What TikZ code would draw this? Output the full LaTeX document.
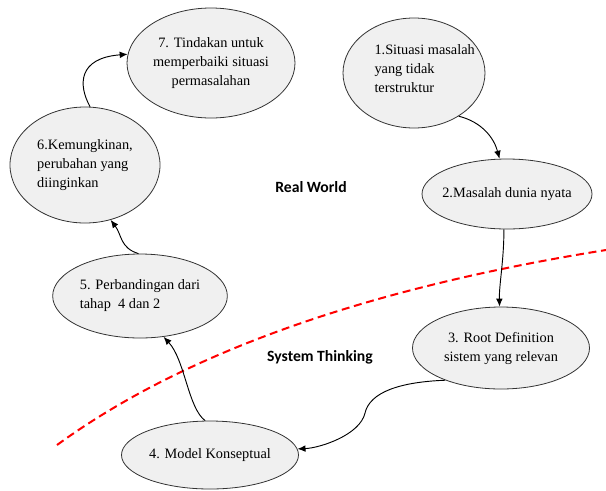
\documentclass[tikz,border=0pt]{standalone}
\usepackage{fontspec}
\usetikzlibrary{shapes.geometric, arrows.meta}
\setmainfont{Liberation Serif}
\newfontfamily\worldfont{Carlito}
\definecolor{stagefill}{HTML}{F0F0F0}
\begin{document}
\begin{tikzpicture}
  [
    x = 0.75pt, y = -0.75pt,
    stage/.style  = {ellipse, draw=black!80, line width=0.6pt, fill=stagefill, inner sep=0pt},
    txt/.style    = {font=\fontsize{10.75}{14.25}\selectfont, inner sep=0pt},
    world/.style  = {font=\worldfont\bfseries\fontsize{11.75}{13}\selectfont},
    link/.style   = {draw, line width=0.7pt, -{Latex[length=6pt, width=5pt]}},
    border/.style = {draw=red, line width=1.5pt, dash pattern=on 6pt off 3.5pt}
  ]
 \useasboundingbox (0,0) rectangle (606,490);
 % stages
 \node [stage, minimum width=126pt, minimum height=82.5pt,
   label={[txt, align=center]center:{7. Tindakan untuk\\memperbaiki situasi\\permasalahan}}]
   (s7) at (211,63) {};
 \node [stage, minimum width=106.5pt, minimum height=82.5pt,
   label={[txt, align=left, xshift=8pt, yshift=3pt]center:{1.Situasi masalah\\yang tidak\\terstruktur}}]
   (s1) at (414,73) {};
 \node [stage, minimum width=112.5pt, minimum height=87pt,
   label={[txt, align=left]center:{6.Kemungkinan,\\perubahan yang\\diinginkan}}]
   (s6) at (85,165) {};
 \node [stage, minimum width=127.5pt, minimum height=52.5pt,
   label={[txt]center:{2.Masalah dunia nyata}}]
   (s2) at (507,194) {};
 \node [stage, minimum width=131pt, minimum height=63pt,
   label={[txt, align=left]center:{5. Perbandingan dari\\tahap\ \ 4 dan 2}}]
   (s5) at (140,296) {};
 \node [stage, minimum width=132.75pt, minimum height=61.5pt,
   label={[txt, align=center]center:{3. Root Definition\\sistem yang relevan}}]
   (s3) at (501,348) {};
 \node [stage, minimum width=132.75pt, minimum height=51pt,
   label={[txt]center:{4. Model Konseptual}}]
   (s4) at (210,455) {};
 % regions
 \node [world] (real) at (311,187) {Real World};
 \node [world] (sys)  at (320,357) {System Thinking};
 \coordinate (b0) at (57,445);
 \coordinate (b1) at (606,250);
 \draw [border] (b0) .. controls (185,352) and (368,288) .. (b1);
 % cycle
 \draw [link] (s1.-44) .. controls (482,122) and (494,138) .. (s2.102);
 \draw [link] (s2.-95) .. controls (504,260) and (499,285) .. (s3.92);
 \draw [link] (s3.-150) .. controls (400,382) and (370,392) .. (365,413)
   .. controls (360,435) and (320,448) .. (s4.4);
 \draw [link] (s4.98) .. controls (188,408) and (185,360) .. (s5.-60);
 \draw [link] (s5.92) .. controls (120,248) and (122,235) .. (s6.-65);
 \draw [link] (s6.85) .. controls (78,85) and (78,58) .. (s7.174);
\end{tikzpicture}
\end{document}
